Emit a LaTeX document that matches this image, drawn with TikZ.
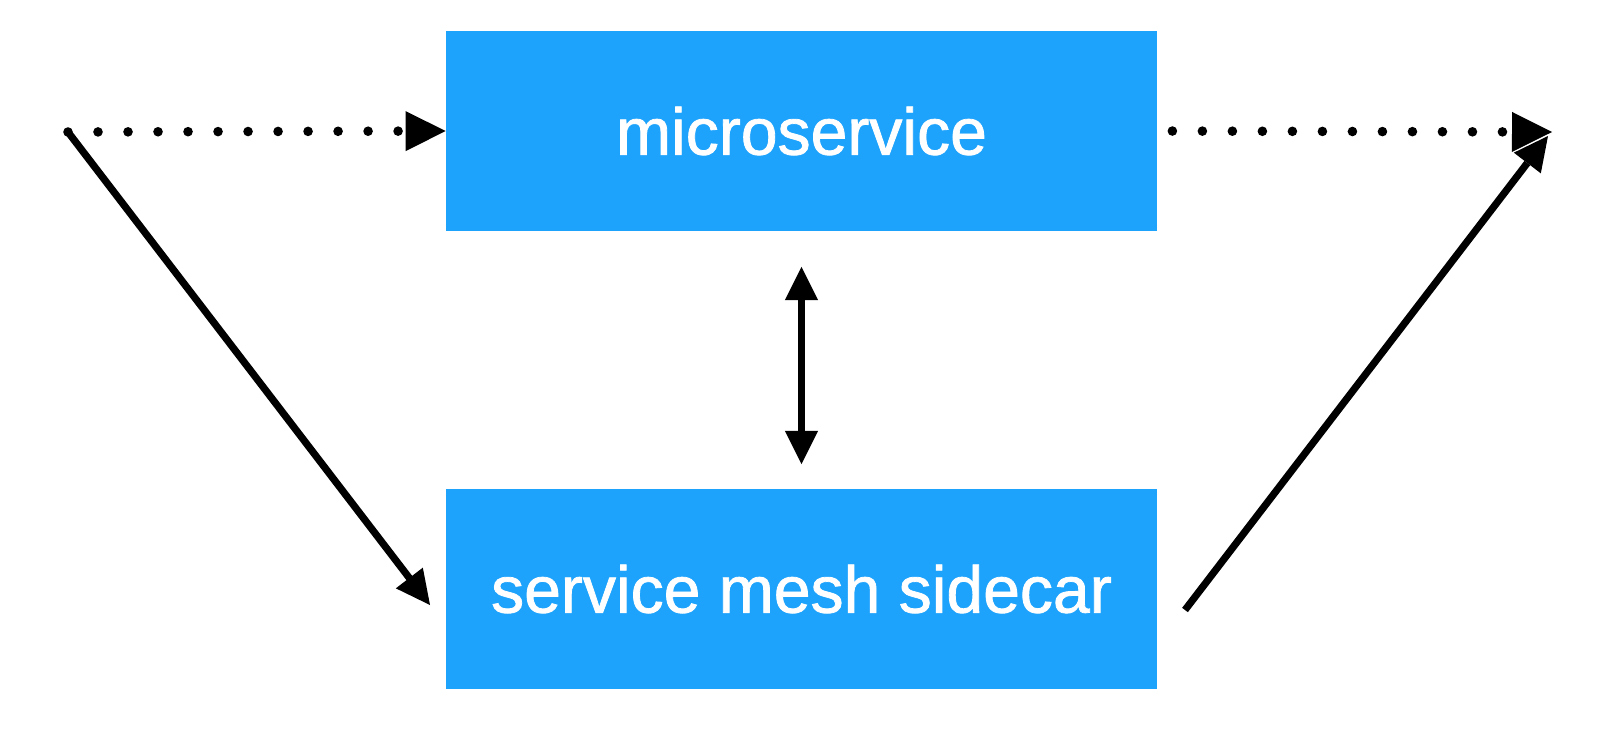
\documentclass[tikz,border=0pt]{standalone}
\usepackage{fontspec}
\setmainfont{Liberation Sans}
\newfontfamily\boxfont[FakeBold=1.2]{Liberation Sans}
\usetikzlibrary{arrows.meta, positioning}
\definecolor{meshblue}{RGB}{30,163,252}

\begin{document}
\begin{tikzpicture}[x=0.025cm, y=-0.025cm,
  box/.style={rectangle, fill=meshblue, minimum width=17.775cm, minimum height=4.975cm,
  text=white, font=\boxfont\fontsize{47}{56}\selectfont},
  dots/.style={line width=0.24cm, line cap=round, dash pattern=on 0pt off 0.75cm,
  -{Triangle[length=1cm, width=1cm, line width=0pt 0]}},
  flow/.style={line width=0.18cm, -{Triangle[length=0.85cm, width=0.85cm, line width=0pt 0]}}]
  \useasboundingbox (0,0) rectangle (1600,731);
  \node[box] (svc) at (801.5,131) {\raisebox{-0.1cm}{microservice}};
  \node[box] (side) at (801.5,589) {\raisebox{-0.1cm}{service mesh sidecar}};

  \coordinate (src) at (68,132);
  \coordinate (dst) at (1552,132);
  \coordinate (inside) at (430,605);
  \coordinate (outside) at (1185,610);
  \coordinate (back) at (1548,136);

  \draw[dots] (src) -- (svc.west);
  \draw[dots, shorten <=0.375cm] (svc.east) -- (dst);
  \draw[flow, line cap=round] (src) -- (inside);
  \draw[flow] (outside) -- (back);
  \draw[flow, {Triangle[length=0.83cm, width=0.83cm, line width=0pt 0]}-{Triangle[length=0.83cm, width=0.83cm, line width=0pt 0]},
    shorten <=0.9cm, shorten >=0.625cm] (svc.south) -- (side.north);
\end{tikzpicture}
\end{document}
